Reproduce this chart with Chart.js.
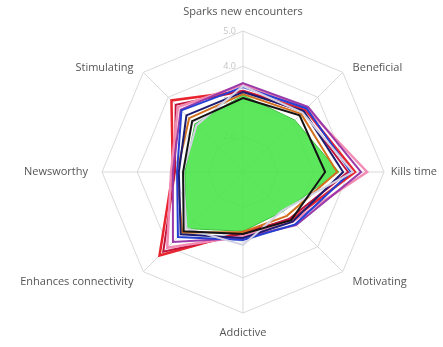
<!DOCTYPE html>
<html>
<head>
<meta charset="utf-8">
<script src="https://cdn.jsdelivr.net/npm/chart.js@4.4.1/dist/chart.umd.min.js"></script>
<style>
  html, body { margin: 0; padding: 0; background: #ffffff; }
  #wrap { width: 443px; height: 347px; }
</style>
</head>
<body>
<div id="wrap"><canvas id="chart" width="443" height="347"></canvas></div>
<script>
// Axes, clockwise from the top
const categories = [
  'Sparks new encounters', 'Beneficial', 'Kills time', 'Motivating',
  'Addictive', 'Enhances connectivity', 'Newsworthy', 'Stimulating'
];

// Ring values and the labels printed beside them
const tickValues = [2, 3, 4, 5];
const tickLabels = ['2.0', '3.0', '4.0', '5.0'];

// Series scores, one per axis
const seriesBlack   = [3.10, 3.27, 3.33, 2.93, 2.76, 3.38, 2.70, 3.04];
const seriesGrey    = [3.44, 3.38, 4.12, 2.56, 3.07, 3.27, 2.70, 2.87];
const seriesBlue    = [3.41, 3.55, 4.06, 3.10, 2.93, 3.61, 2.87, 3.47];
const seriesNavy    = [3.27, 3.44, 3.84, 2.99, 2.87, 3.50, 2.82, 3.27];
const seriesPurple  = [3.52, 3.61, 4.35, 3.13, 2.87, 3.81, 2.99, 3.50];
const seriesPink    = [3.47, 3.55, 4.52, 2.99, 2.82, 4.04, 3.04, 3.61];
const seriesOrange  = [3.21, 3.33, 3.67, 2.76, 2.70, 3.44, 2.87, 3.16];
const seriesDarkRed = [3.30, 3.41, 3.98, 2.87, 2.76, 4.20, 2.93, 3.70];
const seriesRed     = [3.30, 3.50, 4.18, 2.93, 2.70, 4.35, 2.99, 3.87];
const seriesGreen   = [3.18, 3.08, 3.72, 2.59, 2.68, 3.27, 2.65, 2.93];

function line(data, color, width) {
  return {
    data: data,
    borderColor: color,
    borderWidth: width,
    backgroundColor: 'transparent',
    fill: false,
    pointRadius: 0,
    pointHoverRadius: 0
  };
}

// Axis captions and ring values drawn from the scale geometry
const radarText = {
  id: 'radarText',
  beforeDatasetsDraw(chart) {
    const scale = chart.scales.r;
    const ctx = chart.ctx;
    ctx.save();
    ctx.font = '9px "Open Sans", sans-serif';
    ctx.fillStyle = '#c4c4c4';
    ctx.textAlign = 'right';
    ctx.textBaseline = 'middle';
    tickValues.forEach((v, i) => {
      const p = scale.getPointPositionForValue(0, v);
      ctx.fillText(tickLabels[i], p.x - 7, p.y);
    });
    ctx.restore();
  },
  afterDraw(chart) {
    const scale = chart.scales.r;
    const ctx = chart.ctx;
    const pad = 14;
    ctx.save();
    ctx.font = '11px "Open Sans", sans-serif';
    ctx.fillStyle = '#555555';
    categories.forEach((label, i) => {
      const p = scale.getPointPosition(i, scale.drawingArea + pad);
      const dx = p.x - scale.xCenter;
      const dy = p.y - scale.yCenter;
      const w = ctx.measureText(label).width;
      let x = p.x;
      let align = 'center';
      if (dx > 1) { align = 'left'; x = Math.min(x, chart.width - w - 6); }
      else if (dx < -1) { align = 'right'; x = Math.max(x, w + 6); }
      let base = 'middle';
      if (Math.abs(dx) <= 1) base = dy < 0 ? 'bottom' : 'top';
      else if (dy < -1) base = 'top';
      ctx.textAlign = align;
      ctx.textBaseline = base;
      ctx.fillText(label, x, p.y);
    });
    ctx.restore();
  }
};

new Chart(document.getElementById('chart'), {
  type: 'radar',
  data: {
    labels: categories,
    datasets: [
      line(seriesBlack, '#141414', 2),
      line(seriesGrey, '#d2d2e4', 2),
      line(seriesBlue, '#2540d2', 2),
      line(seriesNavy, '#1c1c70', 2),
      line(seriesPurple, '#9a3aa8', 2),
      line(seriesPink, '#f28cb4', 2.5),
      line(seriesOrange, '#d2701e', 2),
      line(seriesDarkRed, '#c0143c', 2),
      line(seriesRed, '#e8242e', 2.5),
      {
        data: seriesGreen,
        borderColor: '#3fbf3f',
        borderWidth: 1,
        backgroundColor: 'rgba(74, 228, 74, 0.9)',
        fill: true,
        pointRadius: 0,
        pointHoverRadius: 0
      }
    ]
  },
  options: {
    responsive: false,
    animation: false,
    events: [],
    layout: { padding: { left: 100, right: 57, top: 31, bottom: 34 } },
    elements: { line: { tension: 0 } },
    plugins: {
      legend: { display: false },
      tooltip: { enabled: false }
    },
    scales: {
      r: {
        min: 1,
        max: 5,
        ticks: { stepSize: 1, display: false },
        grid: { color: '#d9d9d9', lineWidth: 1 },
        angleLines: { color: '#d9d9d9', lineWidth: 1 },
        pointLabels: { display: false }
      }
    }
  },
  plugins: [radarText]
});
</script>
</body>
</html>
